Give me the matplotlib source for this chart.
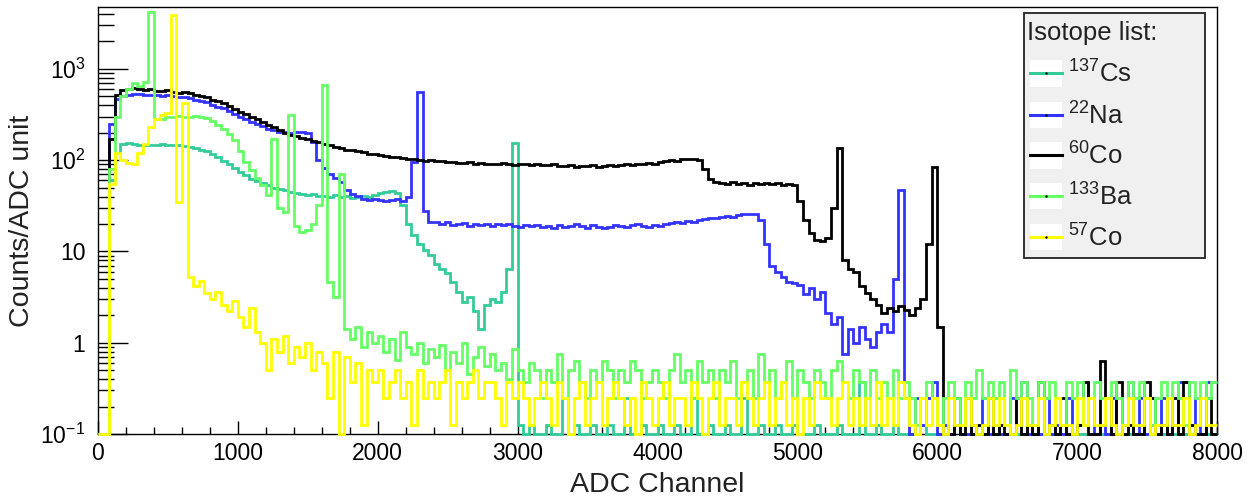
import numpy as np
import matplotlib.pyplot as plt
from matplotlib.patches import Rectangle
from matplotlib.ticker import LogLocator, NullFormatter, MultipleLocator

plt.rcParams['font.family'] = ['Liberation Sans', 'DejaVu Sans']
plt.rcParams['mathtext.fontset'] = 'custom'
plt.rcParams['mathtext.rm'] = 'Liberation Sans'
plt.rcParams['mathtext.it'] = 'Liberation Sans:italic'

# spectra rebinned to 40 ADC channels per bin, 0..8000
bin_width = 40
edges = np.arange(0, 8001, bin_width)

cs137 = [
    0, 0, 60, 120, 150, 155, 150, 148, 145, 147,
    148, 150, 146, 148, 145, 143, 140, 137, 130, 125,
    118, 108, 98, 90, 82, 74, 68, 63, 59, 56,
    53, 50, 48, 47, 45, 44, 43, 42, 43, 41,
    41, 40, 42, 40, 41, 39, 40, 41, 40, 42,
    44, 45, 46, 44, 32, 20, 15, 12, 10.5, 9.2,
    7.2, 6.5, 5.8, 4.6, 3.6, 2.8, 3.2, 2.2, 1.4, 2.6,
    3.0, 2.8, 3.6, 6.5, 155, 0.125, 0, 0.125, 0, 0,
    0.125, 0, 0, 0.25, 0, 0.125, 0, 0, 0.125, 0,
    0, 0.125, 0, 0, 0.25, 0, 0, 0.125, 0, 0,
    0.125, 0, 0, 0.125, 0, 0, 0.25, 0, 0, 0.125,
    0, 0, 0.125, 0, 0, 0.25, 0, 0, 0.125, 0,
    0, 0.125, 0, 0, 0.125, 0, 0, 0, 0.125, 0,
    0, 0, 0.125, 0, 0, 0, 0.375, 0, 0, 0.125,
    0, 0, 0.125, 0, 0, 0, 0, 0.125, 0, 0,
    0, 0, 0, 0.125, 0, 0, 0, 0, 0, 0,
    0, 0, 0, 0, 0, 0, 0, 0, 0, 0,
    0, 0, 0, 0, 0, 0, 0, 0, 0, 0,
    0, 0, 0, 0, 0, 0, 0, 0, 0, 0,
    0, 0, 0, 0, 0, 0, 0, 0, 0, 0,
]

na22 = [
    0, 0, 250, 470, 510, 520, 530, 525, 520, 515,
    515, 510, 520, 500, 495, 490, 480, 460, 445, 430,
    405, 385, 370, 345, 320, 300, 285, 265, 250, 235,
    220, 212, 205, 202, 200, 204, 202, 198, 160, 100,
    82, 70, 64, 58, 47, 43, 41, 38, 37, 38,
    37, 36, 37, 38, 36, 40, 95, 560, 28, 21,
    21, 20, 21, 19.5, 20, 20.5, 19, 20, 19.5, 20,
    19, 20, 19.5, 20, 19, 18.5, 19.5, 19, 19.5, 18.5,
    19, 18, 19.5, 18.5, 19, 20, 19, 18, 19.5, 18.5,
    18, 18.5, 19.5, 19, 18.5, 19.5, 20, 19, 18.5, 19.5,
    19, 20, 20.5, 21, 20.5, 21.5, 21, 22, 22.5, 23,
    23.5, 24, 24.5, 24, 25, 25.5, 26, 25.5, 22, 12,
    7.0, 6.0, 5.3, 4.6, 4.5, 4.3, 3.4, 4.0, 3.0, 3.6,
    2.1, 1.6, 1.9, 0.75, 1.4, 1.0, 1.5, 1.1, 0.9, 1.3,
    1.6, 1.3, 5.0, 47, 0.25, 0, 0.25, 0.125, 0.25, 0.375,
    0, 0.125, 0, 0.25, 0, 0, 0.125, 0, 0.25, 0,
    0.125, 0, 0, 0.25, 0.125, 0.375, 0, 0.125, 0, 0.25,
    0, 0.125, 0, 0.25, 0, 0.125, 0.375, 0.25, 0, 0.125,
    0, 0.25, 0, 0.125, 0.375, 0, 0.25, 0, 0.125, 0,
    0.25, 0, 0.125, 0.375, 0.375, 0, 0.25, 0, 0.375, 0.375,
]

co60 = [
    0, 0, 170, 520, 590, 600, 620, 600, 590, 610,
    580, 570, 590, 560, 550, 560, 540, 520, 505, 490,
    460, 440, 420, 390, 365, 340, 320, 300, 280, 262,
    245, 230, 215, 200, 190, 182, 176, 170, 164, 158,
    150, 146, 140, 135, 131, 128, 125, 122, 118, 116,
    114, 112, 109, 108, 105, 104, 102, 100, 99, 101,
    98, 97, 95, 96, 94, 93, 95, 92, 93, 91,
    92, 90, 93, 91, 89, 92, 90, 88, 91, 89,
    88, 90, 87, 86, 89, 85, 87, 86, 88, 85,
    87, 89, 86, 88, 90, 89, 91, 90, 93, 92,
    95, 97, 100, 99, 102, 104, 103, 101, 80, 62,
    57, 56, 55, 57, 55, 56, 54, 56, 55, 56,
    55, 56, 54, 55, 53, 36, 22, 16, 13.5, 13,
    14, 30, 135, 8.0, 6.5, 6.0, 4.2, 3.5, 3.0, 2.6,
    2.1, 2.4, 2.2, 2.5, 2.3, 2.0, 2.4, 3.0, 12, 85,
    1.5, 0, 0, 0.125, 0, 0.25, 0, 0.125, 0, 0.25,
    0, 0.125, 0, 0, 0.25, 0, 0.125, 0, 0.375, 0,
    0.125, 0, 0.25, 0, 0, 0.125, 0.375, 0, 0, 0.625,
    0.25, 0, 0.375, 0, 0.125, 0, 0, 0.375, 0.25, 0,
    0.125, 0, 0.25, 0, 0.375, 0.125, 0, 0, 0.25, 0,
]

ba133 = [
    0, 0, 80, 300, 500, 600, 700, 650, 720, 4200,
    285, 280, 295, 300, 305, 300, 298, 302, 300, 290,
    270, 245, 220, 195, 165, 125, 95, 78, 64, 54,
    42, 170, 30, 27, 310, 19, 16.5, 17, 20, 32,
    660, 4.6, 3.2, 70, 1.4, 1.1, 1.5, 0.9, 1.3, 1.0,
    1.2, 0.8, 1.1, 0.65, 1.3, 0.9, 0.75, 1.0, 0.6, 0.85,
    0.7, 0.95, 0.5, 0.8, 0.6, 1.0, 0.45, 0.7, 0.9, 0.55,
    0.75, 0.5, 0.6, 0.4, 0.85, 0.5, 0.375, 0.6, 0.5, 0.25,
    0.5, 0.375, 0.75, 0.25, 0.5, 0.625, 0.375, 0.25, 0.5, 0.375,
    0.625, 0.5, 0.25, 0.5, 0.375, 0.625, 0.5, 0.25, 0.375, 0.5,
    0.375, 0.25, 0.5, 0.75, 0.375, 0.5, 0.25, 0.625, 0.375, 0.5,
    0.25, 0.5, 0.375, 0.625, 0.25, 0.375, 0.5, 0.25, 0.75, 0.375,
    0.5, 0.25, 0.375, 0.625, 0.25, 0.5, 0.375, 0.25, 0.5, 0.375,
    0.25, 0.5, 0.625, 0.375, 0.25, 0.5, 0.375, 0.25, 0.5, 0.25,
    0.375, 0.25, 0.5, 0.25, 0.375, 0.25, 0.125, 0.25, 0.375, 0.25,
    0.125, 0.25, 0.375, 0.25, 0.125, 0.375, 0.25, 0.5, 0.25, 0.375,
    0.25, 0.375, 0.125, 0.5, 0.25, 0.375, 0.25, 0.125, 0.375, 0.25,
    0.375, 0.25, 0.125, 0.375, 0.25, 0.375, 0.125, 0.25, 0.375, 0.25,
    0.25, 0.375, 0.25, 0.125, 0.375, 0.25, 0.375, 0.25, 0.125, 0.25,
    0.375, 0.25, 0.375, 0.25, 0.125, 0.375, 0.25, 0.375, 0.25, 0.375,
]

co57 = [
    0, 0, 55, 120, 100, 93, 90, 120, 150, 230,
    280, 310, 330, 3900, 35, 420, 5.2, 4.2, 4.8, 3.5,
    3.0, 3.6, 2.6, 2.2, 2.9, 1.9, 1.5, 2.4, 1.3, 1.0,
    0.5, 1.1, 0.8, 1.2, 0.6, 0.9, 0.7, 1.0, 0.5, 0.8,
    0.6, 0.25, 0.8, 0, 0.7, 0.375, 0.6, 0.125, 0.5, 0.375,
    0.5, 0.25, 0.375, 0.5, 0.25, 0.375, 0.125, 0.5, 0.25, 0.375,
    0.25, 0.375, 0.5, 0.125, 0.375, 0.25, 0.375, 0.5, 0.25, 0.375,
    0.375, 0.25, 0.125, 0.375, 0.25, 0.375, 0.25, 0.125, 0.25, 0.375,
    0.25, 0.125, 0.375, 0.25, 0, 0.25, 0.375, 0.125, 0.25, 0.375,
    0.125, 0.25, 0.375, 0.25, 0.125, 0.25, 0, 0.375, 0.25, 0.125,
    0.25, 0.375, 0.125, 0.25, 0.25, 0.125, 0.375, 0.25, 0, 0.25,
    0.375, 0.125, 0.25, 0.25, 0.125, 0.375, 0.25, 0.125, 0.25, 0.375,
    0.125, 0.25, 0.375, 0.125, 0.25, 0, 0.25, 0.125, 0.375, 0.25,
    0.25, 0.125, 0.25, 0.375, 0.125, 0.25, 0.125, 0.25, 0.125, 0.375,
    0.125, 0.25, 0.125, 0.375, 0.25, 0.125, 0, 0.25, 0.125, 0.25,
    0.125, 0, 0.25, 0.125, 0.125, 0.25, 0.125, 0, 0.125, 0.25,
    0.125, 0.25, 0.125, 0, 0.125, 0.25, 0.125, 0.125, 0.25, 0,
    0.125, 0.25, 0.125, 0.125, 0, 0.25, 0.125, 0.25, 0.125, 0.125,
    0.25, 0.125, 0, 0.125, 0.25, 0.125, 0.125, 0.25, 0, 0.125,
    0.125, 0.25, 0.125, 0.125, 0.25, 0, 0.125, 0.25, 0.125, 0.125,
]

labels = [r'$^{137}$Cs', r'$^{22}$Na', r'$^{60}$Co', r'$^{133}$Ba', r'$^{57}$Co']
colors = ['#33cc99', '#3333ff', '#000000', '#66ff66', '#ffff00']
spectra = [cs137, na22, co60, ba133, co57]

y_min, y_max = 0.1, 4770

fig = plt.figure(figsize=(12.53, 4.98), dpi=100)
ax = fig.add_axes([0.0782, 0.1285, 0.8931, 0.8574])

for counts, col in zip(spectra, colors):
    counts = np.asarray(counts, dtype=float)
    # empty bins sit on the bottom of the log axis
    counts = np.where(counts > 0, counts, y_min)
    ax.stairs(counts, edges, baseline=None, color=col, lw=2.0,
              clip_on=False, zorder=3)

ax.set_yscale('log')
ax.set_xlim(0, 8000)
ax.set_ylim(y_min, y_max)

ax.xaxis.set_major_locator(MultipleLocator(1000))
ax.xaxis.set_minor_locator(MultipleLocator(200))
ax.set_yticks([0.1, 1, 10, 100, 1000])
ax.set_yticklabels([r'$10^{-1}$', '1', '10', r'$10^{2}$', r'$10^{3}$'])
ax.yaxis.set_minor_locator(LogLocator(base=10, subs=np.arange(2, 10)))
ax.yaxis.set_minor_formatter(NullFormatter())

ax.tick_params(axis='x', which='major', direction='in', length=9.4, width=1,
               labelsize=16.5, pad=6, top=False)
ax.tick_params(axis='x', which='minor', direction='in', length=4.7, width=1, top=False)
ax.tick_params(axis='y', which='major', direction='in', length=21.5, width=1,
               labelsize=16.5, pad=9, right=False)
ax.tick_params(axis='y', which='minor', direction='in', length=11.5, width=1, right=False)
for sp in ax.spines.values():
    sp.set_linewidth(1.0)

ax.set_xlabel('ADC Channel', fontsize=20.5, color='#222222')
ax.xaxis.set_label_coords(0.5, -0.089)
ax.set_ylabel('Counts/ADC unit', fontsize=20.5, color='#222222')
ax.yaxis.set_label_coords(-0.056, 0.5)

# legend box
lx0, lx1 = 0.8275, 0.9893
ly0, ly1 = 0.412, 0.986
ax.add_patch(Rectangle((lx0, ly0), lx1 - lx0, ly1 - ly0, transform=ax.transAxes,
                       facecolor='#f0f0f0', edgecolor='#222222', lw=1.3,
                       zorder=6, clip_on=False))
ax.text(0.8305, 0.939, 'Isotope list:', transform=ax.transAxes, fontsize=18.5,
        va='center', ha='left', color='#222222', zorder=7)

entry_y = [0.8454, 0.7471, 0.6534, 0.5574, 0.4614]
hx0, hx1 = 0.8329, 0.8615
for yy, lab, col in zip(entry_y, labels, colors):
    ax.add_patch(Rectangle((hx0, yy - 0.0316), hx1 - hx0, 0.0632,
                           transform=ax.transAxes, facecolor='white',
                           edgecolor='none', zorder=7, clip_on=False))
    ax.plot([hx0, hx1], [yy, yy], transform=ax.transAxes, color=col, lw=2.2,
            zorder=8, clip_on=False)
    ax.plot([(hx0 + hx1) / 2], [yy], transform=ax.transAxes, marker='.',
            ms=1.5, color='black', zorder=9, clip_on=False)
    ax.text(0.8668, yy - 0.0234, lab, transform=ax.transAxes, fontsize=18.5,
            va='baseline', ha='left', color='#222222', zorder=8)

fig.savefig('out.png', dpi=100)
